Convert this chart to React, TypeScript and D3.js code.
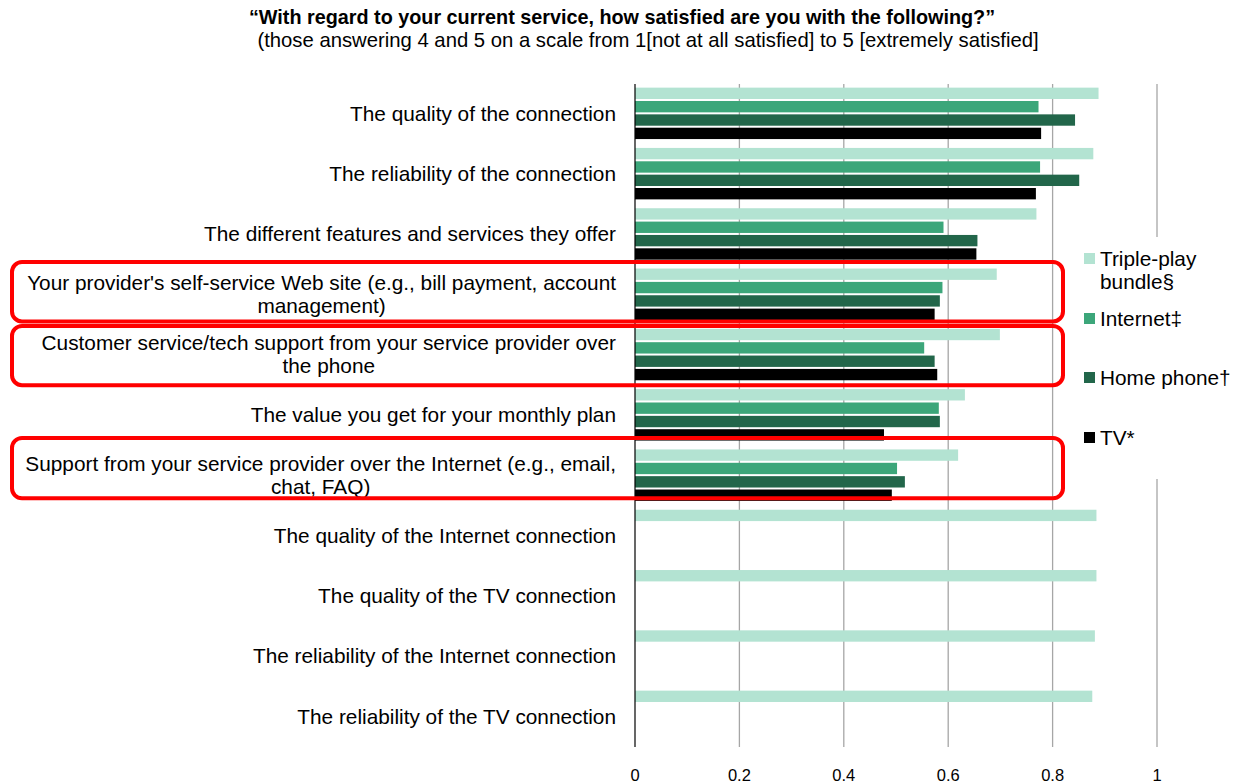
import React, { useEffect, useRef } from "react";
import * as d3 from "d3";

const categories = [
  "The quality of the connection",
  "The reliability of the connection",
  "The different features and services they offer",
  "Your provider's self-service Web site (e.g., bill payment, account\nmanagement)",
  "Customer service/tech support from your service provider over\nthe phone",
  "The value you get for your monthly plan",
  "Support from your service provider over the Internet (e.g., email,\nchat, FAQ)",
  "The quality of the Internet connection",
  "The quality of the TV connection",
  "The reliability of the Internet connection",
  "The reliability of the TV connection",
];

const seriesNames = ["Triple-play bundle§", "Internet‡", "Home phone†", "TV*"];
const tripleplay = [0.888, 0.878, 0.769, 0.693, 0.699, 0.632, 0.619, 0.884, 0.884, 0.881, 0.876];
const internet = [0.773, 0.776, 0.591, 0.589, 0.554, 0.582, 0.502, null, null, null, null];
const homePhone = [0.843, 0.851, 0.656, 0.584, 0.574, 0.584, 0.517, null, null, null, null];
const tv = [0.778, 0.768, 0.654, 0.574, 0.579, 0.477, 0.492, null, null, null, null];
const xTicks = [0, 0.2, 0.4, 0.6, 0.8, 1];
const highlighted = [3, 4, 6];

const colors = ["#b3e3d2", "#3ca67a", "#22664a", "#000000"];

const title = "\u201CWith regard to your current service, how satisfied are you with the following?\u201D";
const subtitle = "(those answering 4 and 5 on a scale from 1[not at all satisfied] to 5 [extremely satisfied]";

export default function App() {
  const ref = useRef<SVGSVGElement | null>(null);

  useEffect(() => {
    const svg = d3.select(ref.current);
    svg.selectAll("*").remove();
    const font = "'Liberation Sans', Arial, sans-serif";
    const labelSize = 20.8;

    const x = d3.scaleLinear().domain([0, 1]).range([635, 1157]);
    const y = d3.scaleBand<number>().domain(d3.range(categories.length)).range([83.2, 746.5]).paddingInner(0).paddingOuter(0);
    const inner = d3.scaleBand<number>().domain([0, 1, 2, 3]).range([3.5, y.bandwidth() - 3.5]).paddingInner(0.15).paddingOuter(0.07);

    const series = [tripleplay, internet, homePhone, tv];

    const g = svg.append("g");
    g.selectAll("line.grid")
      .data(xTicks.filter((t) => t > 0))
      .join("line")
      .attr("x1", (d) => x(d))
      .attr("x2", (d) => x(d))
      .attr("y1", 84)
      .attr("y2", 747)
      .attr("stroke", "#a6a6a6")
      .attr("stroke-width", 1.3);

    series.forEach((vals, si) => {
      g.append("g")
        .selectAll("rect")
        .data(vals.map((v, i) => ({ v, i })).filter((d) => d.v != null))
        .join("rect")
        .attr("x", x(0))
        .attr("y", (d) => (y(d.i) as number) + (inner(si) as number))
        .attr("width", (d) => x(d.v as number) - x(0))
        .attr("height", inner.bandwidth())
        .attr("fill", colors[si]);
    });

    g.append("line")
      .attr("x1", x(0))
      .attr("x2", x(0))
      .attr("y1", 84)
      .attr("y2", 747)
      .attr("stroke", "#000")
      .attr("stroke-width", 1.2);

    g.selectAll("text.tick")
      .data(xTicks)
      .join("text")
      .attr("x", (d) => x(d))
      .attr("y", 781)
      .attr("text-anchor", "middle")
      .attr("font-family", font)
      .attr("font-size", 16.5)
      .attr("fill", "#000")
      .text((d) => d3.format("")(d));

    const labelRight = 616;
    const lineH = 23;
    categories.forEach((c, i) => {
      const lines = c.split("\n");
      const cy = (y(i) as number) + y.bandwidth() / 2;
      const top = cy - ((lines.length - 1) * lineH) / 2;
      const first = g
        .append("text")
        .attr("x", labelRight)
        .attr("y", top)
        .attr("dy", "0.35em")
        .attr("text-anchor", "end")
        .attr("font-family", font)
        .attr("font-size", labelSize)
        .attr("fill", "#000")
        .text(lines[0]);
      if (lines.length > 1) {
        const w = (first.node() as SVGTextElement).getComputedTextLength();
        const center = labelRight - w / 2;
        lines.slice(1).forEach((ln, k) => {
          g.append("text")
            .attr("x", center)
            .attr("y", top + (k + 1) * lineH)
            .attr("dy", "0.35em")
            .attr("text-anchor", "middle")
            .attr("font-family", font)
            .attr("font-size", labelSize)
            .attr("fill", "#000")
            .text(ln);
        });
      }
    });

    g.append("rect").attr("x", 1075).attr("y", 237).attr("width", 170).attr("height", 242).attr("fill", "#fff");
    const legendY = [253, 313, 372, 432];
    const legendLines = [["Triple-play", "bundle§"], ["Internet‡"], ["Home phone†"], ["TV*"]];
    seriesNames.forEach((_, si) => {
      g.append("rect")
        .attr("x", 1084)
        .attr("y", legendY[si])
        .attr("width", 11)
        .attr("height", 11)
        .attr("fill", colors[si]);
      legendLines[si].forEach((ln, k) => {
        g.append("text")
          .attr("x", 1100)
          .attr("y", legendY[si] + 6 + k * 23)
          .attr("dy", "0.35em")
          .attr("font-family", font)
          .attr("font-size", labelSize)
          .attr("fill", "#000")
          .text(ln);
      });
    });

    const boxOffsets = [
      [-2, -3],
      [1.5, 0.5],
      [-7, -7],
    ];
    highlighted.forEach((ci, k) => {
      const y0 = (y(ci) as number) + boxOffsets[k][0];
      const y1 = (y(ci) as number) + y.bandwidth() + boxOffsets[k][1];
      g.append("rect")
        .attr("x", 12)
        .attr("y", y0)
        .attr("width", 1063 - 12)
        .attr("height", y1 - y0)
        .attr("rx", 10)
        .attr("ry", 10)
        .attr("fill", "none")
        .attr("stroke", "#ff0000")
        .attr("stroke-width", 4);
    });

    svg.append("text")
      .attr("x", 622)
      .attr("y", 24)
      .attr("text-anchor", "middle")
      .attr("font-family", font)
      .attr("font-size", 19.8)
      .attr("font-weight", "bold")
      .attr("fill", "#000")
      .text(title);
    svg.append("text")
      .attr("x", 648)
      .attr("y", 47)
      .attr("text-anchor", "middle")
      .attr("font-family", font)
      .attr("font-size", 20.3)
      .attr("fill", "#000")
      .text(subtitle);
  }, []);

  return (
    <svg
      ref={ref}
      width={1245}
      height={784}
      style={{ position: "absolute", left: 0, top: 0, background: "#fff" }}
    />
  );
}
